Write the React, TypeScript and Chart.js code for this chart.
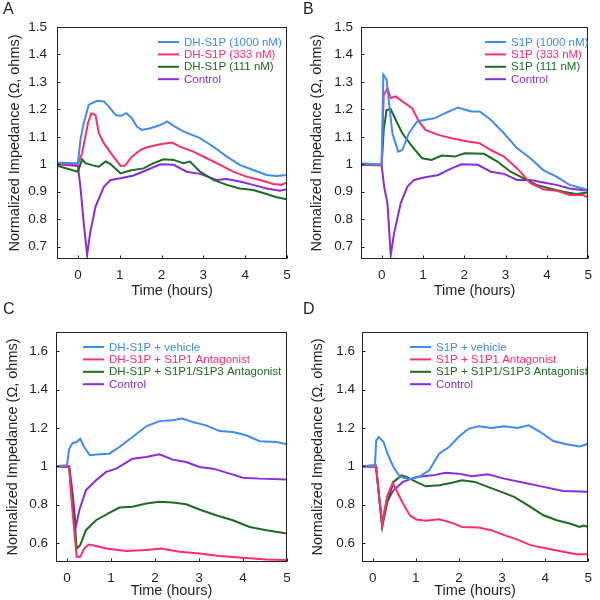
import React, { useEffect, useRef } from "react";
import { Chart, registerables } from "chart.js";

Chart.register(...registerables);

// ---------- Data ----------
const X_TICKS = [0, 1, 2, 3, 4, 5];
const Y_TICKS_TOP = [0.7, 0.8, 0.9, 1, 1.1, 1.2, 1.3, 1.4, 1.5];
const Y_TICKS_BOTTOM = [0.6, 0.8, 1, 1.2, 1.4, 1.6];

const LABELS_A = ["DH-S1P (1000 nM)", "DH-S1P (333 nM)", "DH-S1P (111 nM)", "Control"];
const LABELS_B = ["S1P (1000 nM)", "S1P (333 nM)", "S1P (111 nM)", "Control"];
const LABELS_C = ["DH-S1P + vehicle", "DH-S1P + S1P1 Antagonist", "DH-S1P + S1P1/S1P3 Antagonist", "Control"];
const LABELS_D = ["S1P + vehicle", "S1P + S1P1 Antagonist", "S1P + S1P1/S1P3 Antagonist", "Control"];

// Panel A
const A_1000_T = [-0.5, 0, 0.06, 0.14, 0.26, 0.46, 0.62, 0.74, 0.9, 1.02, 1.16, 1.29, 1.41, 1.53, 1.73, 1.97, 2.13, 2.29, 2.52, 2.92, 3.24, 3.56, 3.87, 4.19, 4.51, 4.75, 5.0];
const A_1000_V = [1.006, 1.004, 1.089, 1.15, 1.217, 1.231, 1.229, 1.21, 1.18, 1.176, 1.186, 1.168, 1.137, 1.125, 1.131, 1.143, 1.156, 1.14, 1.12, 1.095, 1.064, 1.028, 0.998, 0.979, 0.961, 0.957, 0.961];
const A_333_T = [-0.5, 0, 0.1, 0.24, 0.32, 0.42, 0.5, 0.62, 0.82, 1.02, 1.13, 1.29, 1.49, 1.65, 1.97, 2.25, 2.44, 2.76, 3.08, 3.4, 3.71, 4.03, 4.35, 4.67, 4.87, 5.0];
const A_333_V = [1.001, 1.0, 1.04, 1.15, 1.186, 1.18, 1.113, 1.077, 1.034, 0.994, 0.995, 1.028, 1.052, 1.062, 1.073, 1.079, 1.064, 1.046, 1.022, 0.998, 0.973, 0.955, 0.943, 0.928, 0.925, 0.935];
const A_111_T = [-0.5, 0, 0.1, 0.18, 0.38, 0.5, 0.66, 0.78, 1.02, 1.25, 1.57, 1.81, 2.05, 2.29, 2.52, 2.68, 2.92, 3.24, 3.56, 3.87, 4.19, 4.51, 4.75, 5.0];
const A_111_V = [0.995, 0.973, 1.018, 1.004, 0.995, 0.991, 1.01, 1.001, 0.967, 0.977, 0.985, 1.004, 1.018, 1.016, 1.004, 1.01, 0.973, 0.943, 0.925, 0.912, 0.906, 0.892, 0.88, 0.873];
const A_CTRL_T = [-0.5, 0, 0.06, 0.14, 0.22, 0.29, 0.42, 0.62, 0.78, 1.02, 1.33, 1.65, 1.97, 2.29, 2.6, 2.92, 3.32, 3.56, 3.87, 4.19, 4.51, 4.83, 5.0];
const A_CTRL_V = [1.0, 0.994, 0.918, 0.785, 0.669, 0.748, 0.845, 0.918, 0.943, 0.949, 0.959, 0.979, 1.0, 0.998, 0.973, 0.965, 0.943, 0.946, 0.937, 0.925, 0.912, 0.904, 0.909];

// Panel B
const B_1000_T = [-0.5, 0, 0.04, 0.12, 0.17, 0.26, 0.4, 0.5, 0.66, 0.86, 1.06, 1.29, 1.53, 1.85, 2.17, 2.37, 2.64, 2.96, 3.28, 3.6, 3.91, 4.23, 4.55, 4.87, 5.0];
const B_1000_V = [1.004, 0.998, 1.326, 1.308, 1.235, 1.113, 1.046, 1.052, 1.113, 1.156, 1.162, 1.168, 1.186, 1.207, 1.192, 1.192, 1.162, 1.113, 1.058, 1.022, 0.979, 0.955, 0.925, 0.912, 0.906];
const B_333_T = [-0.5, 0, 0.05, 0.14, 0.22, 0.34, 0.5, 0.74, 0.9, 1.06, 1.37, 1.69, 2.09, 2.37, 2.64, 2.96, 3.28, 3.6, 3.91, 4.23, 4.55, 4.87, 5.0];
const B_333_V = [0.998, 0.998, 1.253, 1.277, 1.241, 1.247, 1.229, 1.204, 1.156, 1.125, 1.107, 1.095, 1.083, 1.077, 1.052, 1.028, 0.985, 0.931, 0.909, 0.904, 0.888, 0.888, 0.88];
const B_111_T = [-0.5, 0, 0.05, 0.12, 0.22, 0.34, 0.5, 0.74, 0.98, 1.21, 1.45, 1.77, 2.01, 2.48, 2.8, 3.12, 3.44, 3.75, 4.07, 4.39, 4.71, 5.0];
const B_111_V = [1.0, 0.998, 1.125, 1.198, 1.2, 1.162, 1.113, 1.064, 1.022, 1.016, 1.032, 1.028, 1.04, 1.038, 1.01, 0.973, 0.949, 0.925, 0.912, 0.9, 0.892, 0.897];
const B_CTRL_T = [-0.5, 0, 0.06, 0.14, 0.22, 0.3, 0.46, 0.62, 0.78, 1.06, 1.37, 1.69, 1.93, 2.33, 2.64, 2.96, 3.28, 3.6, 3.91, 4.23, 4.55, 5.0];
const B_CTRL_V = [0.998, 0.996, 0.918, 0.858, 0.669, 0.748, 0.858, 0.918, 0.943, 0.953, 0.961, 0.985, 1.0, 0.998, 0.973, 0.965, 0.943, 0.943, 0.934, 0.925, 0.912, 0.904];

// Panel C
const C_VEH_T = [-0.25, 0, 0.05, 0.13, 0.22, 0.3, 0.39, 0.52, 0.74, 0.96, 1.19, 1.49, 1.8, 2.1, 2.4, 2.62, 2.86, 3.16, 3.47, 3.77, 4.07, 4.38, 4.76, 5.0];
const C_VEH_V = [0.999, 1.005, 1.091, 1.121, 1.126, 1.143, 1.1, 1.057, 1.062, 1.065, 1.1, 1.152, 1.208, 1.235, 1.239, 1.248, 1.23, 1.213, 1.183, 1.178, 1.161, 1.13, 1.126, 1.114];
const C_S1P1_T = [-0.25, 0.05, 0.09, 0.17, 0.22, 0.3, 0.39, 0.49, 0.66, 0.89, 1.34, 1.8, 2.14, 2.56, 3.01, 3.47, 3.92, 4.53, 5.0];
const C_S1P1_V = [0.999, 0.995, 0.857, 0.649, 0.527, 0.527, 0.57, 0.591, 0.583, 0.57, 0.558, 0.562, 0.57, 0.553, 0.544, 0.531, 0.524, 0.513, 0.51];
const C_S1P13_T = [-0.25, 0.05, 0.09, 0.17, 0.22, 0.3, 0.43, 0.66, 0.96, 1.19, 1.49, 1.8, 2.1, 2.4, 2.71, 3.01, 3.39, 3.77, 4.15, 4.53, 5.0];
const C_S1P13_V = [0.999, 0.995, 0.892, 0.718, 0.57, 0.588, 0.666, 0.718, 0.756, 0.784, 0.788, 0.805, 0.814, 0.81, 0.801, 0.774, 0.744, 0.718, 0.683, 0.666, 0.649];
const C_CTRL_T = [-0.25, 0.05, 0.13, 0.2, 0.28, 0.43, 0.66, 0.89, 1.12, 1.49, 1.8, 2.1, 2.4, 2.71, 3.01, 3.32, 3.7, 4.0, 4.38, 5.0];
const C_CTRL_V = [0.999, 0.999, 0.857, 0.683, 0.77, 0.874, 0.926, 0.97, 0.987, 1.039, 1.048, 1.062, 1.034, 1.022, 0.996, 0.987, 0.961, 0.94, 0.935, 0.93];

// Panel D
const D_VEH_T = [-0.25, 0.05, 0.08, 0.14, 0.25, 0.34, 0.48, 0.63, 0.86, 1.08, 1.31, 1.54, 1.77, 1.99, 2.22, 2.45, 2.75, 3.05, 3.36, 3.62, 3.89, 4.19, 4.49, 4.8, 5.0];
const D_VEH_V = [1.0, 1.003, 1.135, 1.152, 1.126, 1.065, 0.996, 0.944, 0.932, 0.944, 0.978, 1.065, 1.1, 1.152, 1.195, 1.208, 1.199, 1.208, 1.199, 1.213, 1.178, 1.131, 1.114, 1.103, 1.117];
const D_S1P1_T = [-0.25, 0.08, 0.14, 0.22, 0.33, 0.46, 0.55, 0.7, 0.86, 1.01, 1.23, 1.54, 1.84, 2.07, 2.45, 2.75, 3.05, 3.36, 3.66, 4.04, 4.42, 4.72, 5.0];
const D_S1P1_V = [1.0, 0.996, 0.857, 0.692, 0.84, 0.913, 0.874, 0.805, 0.744, 0.722, 0.715, 0.723, 0.704, 0.683, 0.68, 0.666, 0.64, 0.617, 0.588, 0.57, 0.553, 0.541, 0.541];
const D_S1P13_T = [-0.25, 0.08, 0.14, 0.22, 0.33, 0.48, 0.67, 0.78, 1.01, 1.23, 1.54, 1.84, 2.07, 2.37, 2.67, 2.98, 3.28, 3.66, 3.96, 4.27, 4.57, 4.8, 4.89, 5.0];
const D_S1P13_V = [1.0, 0.996, 0.857, 0.683, 0.805, 0.918, 0.952, 0.944, 0.918, 0.895, 0.9, 0.913, 0.926, 0.918, 0.892, 0.866, 0.84, 0.788, 0.744, 0.718, 0.701, 0.683, 0.69, 0.683];
const D_CTRL_T = [-0.25, 0.07, 0.14, 0.21, 0.31, 0.48, 0.7, 1.01, 1.39, 1.69, 1.99, 2.3, 2.67, 3.05, 3.51, 3.96, 4.42, 5.0];
const D_CTRL_V = [1.0, 1.005, 0.857, 0.701, 0.805, 0.874, 0.918, 0.944, 0.952, 0.965, 0.961, 0.947, 0.958, 0.935, 0.913, 0.892, 0.871, 0.867];

// ---------- Styles ----------
const COLORS = ["#3d8bf5", "#ff2d6e", "#1d6b1f", "#8a2be2"];
const FONT = '"Liberation Sans", Arial, Helvetica, sans-serif';
const INK = "#231f20";

type Panel = {
  letter: string;
  labels: string[];
  series: [number[], number[]][];
  xMin: number;
  yMin: number;
  yMax: number;
  yTicks: number[];
  area: { left: number; top: number; right: number; bottom: number };
  legendX: number;
  yTickPad: number;
  yTitlePad: number;
};

const PANELS: Panel[] = [
  {
    letter: "A", labels: LABELS_A,
    series: [[A_1000_T, A_1000_V], [A_333_T, A_333_V], [A_111_T, A_111_V], [A_CTRL_T, A_CTRL_V]],
    xMin: -0.5, yMin: 0.655, yMax: 1.5, yTicks: Y_TICKS_TOP,
    area: { left: 57, top: 27, right: 287, bottom: 259 }, legendX: 158, yTickPad: 10, yTitlePad: 6,
  },
  {
    letter: "B", labels: LABELS_B,
    series: [[B_1000_T, B_1000_V], [B_333_T, B_333_V], [B_111_T, B_111_V], [B_CTRL_T, B_CTRL_V]],
    xMin: -0.5, yMin: 0.655, yMax: 1.5, yTicks: Y_TICKS_TOP,
    area: { left: 61, top: 27, right: 292, bottom: 259 }, legendX: 185, yTickPad: 8, yTitlePad: 8,
  },
  {
    letter: "C", labels: LABELS_C,
    series: [[C_VEH_T, C_VEH_V], [C_S1P1_T, C_S1P1_V], [C_S1P13_T, C_S1P13_V], [C_CTRL_T, C_CTRL_V]],
    xMin: -0.25, yMin: 0.5, yMax: 1.7, yTicks: Y_TICKS_BOTTOM,
    area: { left: 56, top: 32, right: 287, bottom: 262 }, legendX: 83, yTickPad: 8, yTitlePad: 4,
  },
  {
    letter: "D", labels: LABELS_D,
    series: [[D_VEH_T, D_VEH_V], [D_S1P1_T, D_S1P1_V], [D_S1P13_T, D_S1P13_V], [D_CTRL_T, D_CTRL_V]],
    xMin: -0.25, yMin: 0.5, yMax: 1.7, yTicks: Y_TICKS_BOTTOM,
    area: { left: 62, top: 32, right: 292, bottom: 262 }, legendX: 110, yTickPad: 7, yTitlePad: 9,
  },
];

const fmt = (v: number) => String(Math.round(v * 100) / 100);

const decorPlugin = {
  id: "decor",
  afterDraw(chart: any, _args: any, opts: any) {
    const { ctx, chartArea } = chart;
    const { left, top, right, bottom } = chartArea;
    ctx.save();
    // frame
    ctx.strokeStyle = INK;
    ctx.lineWidth = 1;
    const l = Math.round(left) + 0.5, t = Math.round(top) + 0.5;
    const r = Math.round(right) - 0.5, b = Math.round(bottom) - 0.5;
    ctx.strokeRect(l, t, r - l, b - t);
    // inward ticks
    ctx.beginPath();
    const xs = chart.scales.x, ys = chart.scales.y;
    xs.ticks.forEach((tk: any) => {
      const px = Math.round(xs.getPixelForValue(tk.value)) + 0.5;
      ctx.moveTo(px, b);
      ctx.lineTo(px, b - 3);
    });
    ys.ticks.forEach((tk: any) => {
      const py = Math.round(ys.getPixelForValue(tk.value)) + 0.5;
      ctx.moveTo(l, py);
      ctx.lineTo(l + 3, py);
    });
    ctx.stroke();
    // legend
    ctx.font = `11.5px ${FONT}`;
    ctx.textBaseline = "middle";
    ctx.textAlign = "left";
    chart.data.datasets.forEach((ds: any, i: number) => {
      const y = top + 15 + i * 12.4;
      ctx.strokeStyle = ds.borderColor;
      ctx.lineWidth = 2;
      ctx.beginPath();
      ctx.moveTo(opts.legendX, y);
      ctx.lineTo(opts.legendX + 21, y);
      ctx.stroke();
      ctx.fillStyle = ds.borderColor;
      ctx.fillText(ds.label, opts.legendX + 26, y + 0.5);
    });
    // panel letter
    ctx.fillStyle = INK;
    ctx.font = `16px ${FONT}`;
    ctx.textBaseline = "alphabetic";
    ctx.fillText(opts.letter, 3, 14);
    ctx.restore();
  },
};

function PanelChart({ panel }: { panel: Panel }) {
  const ref = useRef<HTMLCanvasElement | null>(null);
  useEffect(() => {
    if (!ref.current) return;
    const { area } = panel;
    const chart = new Chart(ref.current, {
      type: "line",
      data: {
        datasets: panel.series.map(([t, v], i) => ({
          label: panel.labels[i],
          data: t.map((x, k) => ({ x, y: v[k] })),
          borderColor: COLORS[i],
          backgroundColor: COLORS[i],
          borderWidth: 2,
          pointRadius: 0,
          tension: 0,
          fill: false,
        })),
      },
      options: {
        animation: false,
        responsive: false,
        maintainAspectRatio: false,
        events: [],
        layout: { padding: { left: 0, top: area.top, right: 300 - area.right, bottom: 0 } },
        plugins: {
          legend: { display: false },
          tooltip: { enabled: false },
          decor: { legendX: panel.legendX, letter: panel.letter },
        } as any,
        scales: {
          x: {
            type: "linear",
            min: panel.xMin,
            max: 5,
            grid: { display: false, drawTicks: false, tickLength: 0 },
            border: { display: false },
            afterBuildTicks: (s: any) => { s.ticks = X_TICKS.map((value) => ({ value })); },
            afterFit: (s: any) => { s.height = 300 - area.bottom; },
            ticks: { font: { size: 13.5, family: FONT }, color: INK, padding: 8, maxRotation: 0, autoSkip: false, callback: (v: any) => fmt(Number(v)) },
            title: { display: true, text: "Time (hours)", font: { size: 14.5, family: FONT }, color: INK, padding: { top: 0, bottom: 0 } },
          },
          y: {
            type: "linear",
            min: panel.yMin,
            max: panel.yMax,
            grid: { display: false, drawTicks: false, tickLength: 0 },
            border: { display: false },
            afterBuildTicks: (s: any) => { s.ticks = panel.yTicks.map((value) => ({ value })); },
            afterFit: (s: any) => { s.width = area.left; },
            ticks: { font: { size: 13.5, family: FONT }, color: INK, padding: panel.yTickPad, autoSkip: false, callback: (v: any) => fmt(Number(v)) },
            title: { display: true, text: "Normalized Impedance (Ω, ohms)", font: { size: 14.5, family: FONT }, color: INK, padding: { top: panel.yTitlePad, bottom: 0 } },
          },
        },
      } as any,
      plugins: [decorPlugin],
    });
    return () => chart.destroy();
  }, [panel]);
  return <canvas ref={ref} width={300} height={300} style={{ display: "block", width: 300, height: 300 }} />;
}

export default function App() {
  const pos = [[0, 0], [300, 0], [0, 300], [300, 300]];
  return (
    <div style={{ position: "absolute", left: 0, top: 0, width: 600, height: 600, background: "#fff" }}>
      {PANELS.map((p, i) => (
        <div key={p.letter} style={{ position: "absolute", left: pos[i][0], top: pos[i][1], width: 300, height: 300 }}>
          <PanelChart panel={p} />
        </div>
      ))}
    </div>
  );
}
